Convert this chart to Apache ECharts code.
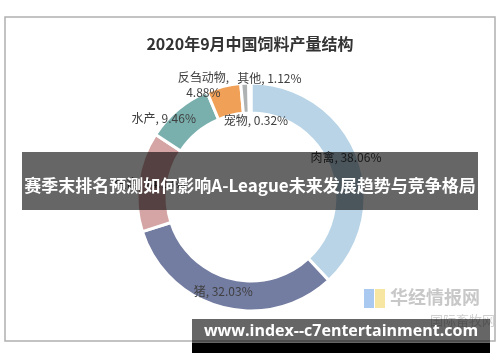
<!DOCTYPE html>
<html>
<head>
<meta charset="utf-8">
<script src="https://cdn.jsdelivr.net/npm/echarts@6/dist/echarts.min.js"></script>
<style>html,body{margin:0;padding:0;background:#fff;}#c{width:500px;height:362px;}</style>
</head>
<body>
<div id="c"></div>
<script>
var titleText = '2020年9月中国饲料产量结构';
var categories = ['肉禽', '猪', '蛋禽', '水产', '反刍动物', '其他', '宠物'];
var values = [38.06, 32.03, 14.13, 9.46, 4.88, 1.12, 0.32];
var bannerText = '赛季末排名预测如何影响A-League未来发展趋势与竞争格局';
var watermarkText = 'www.index--c7entertainment.com';
var logoText = '华经情报网';
var logoSub = '国际畜牧网';

var colors = ['#b8d4e6', '#737ca1', '#d5a4a4', '#79b0ae', '#f0a157', '#aeb2b3', '#cfdde6'];
var labelShift = [[0, -2], [-2, -4], [0, 0], [-22, 0], [-23, -13], [24, -17], [6, 25]];

var chart = echarts.init(document.getElementById('c'), null, {renderer: 'canvas'});
var data = categories.map(function (n, i) {
  return {
    name: n, value: values[i],
    itemStyle: {color: colors[i]},
    label: {formatter: n === '反刍动物' ? '{b},\n{c}%' : '{b}, {c}%'}
  };
});
chart.setOption({
  animation: false,
  title: {
    text: titleText, left: 'center', top: 31,
    textStyle: {fontFamily: 'Noto Sans CJK SC', fontSize: 16, fontWeight: 'bold', color: '#333'}
  },
  series: [{
    type: 'pie',
    center: [251, 197],
    radius: [84, 114],
    startAngle: 90,
    clockwise: true,
    avoidLabelOverlap: false,
    itemStyle: {borderColor: '#fff', borderWidth: 3},
    label: {
      show: true, position: 'inside', color: '#404040', fontSize: 12,
      fontFamily: 'Noto Sans CJK SC', textBorderWidth: 0, lineHeight: 15
    },
    labelLine: {show: false},
    labelLayout: function (p) {
      var s = labelShift[p.dataIndex];
      return {dx: s[0], dy: s[1]};
    },
    data: data
  }],
  graphic: [
    {type: 'rect', z: 0, shape: {x: 5, y: 17, width: 490, height: 324},
      style: {fill: 'none', stroke: '#b0b0b0', lineWidth: 1.5}},
    {type: 'rect', z: 1, shape: {x: 364, y: 289, width: 10, height: 19}, style: {fill: '#a9c9f0'}},
    {type: 'rect', z: 1, shape: {x: 375, y: 289, width: 10, height: 19}, style: {fill: '#f7e6a2'}},
    {type: 'text', z: 1, style: {text: logoText, x: 390, y: 297, verticalAlign: 'middle',
      font: 'bold 18px "Noto Sans CJK SC"', fill: '#c8c8c8'}},
    {type: 'text', z: 1, style: {text: logoSub, x: 430, y: 320, verticalAlign: 'middle',
      font: '13px "Noto Sans CJK SC"', fill: '#d0d0d0'}},
    {type: 'rect', z: 100, shape: {x: 22, y: 152, width: 456, height: 58}, style: {fill: 'rgba(0,0,0,0.6)'}},
    {type: 'text', z: 101, style: {text: bannerText, x: 250, y: 186, align: 'center', verticalAlign: 'middle',
      font: 'bold 17px "Noto Sans CJK SC"', fill: '#fff'}},
    {type: 'rect', z: 100, shape: {x: 192, y: 319, width: 298, height: 24}, style: {fill: 'rgba(0,0,0,0.6)'}},
    {type: 'rect', z: 100, shape: {x: 192, y: 343, width: 298, height: 10}, style: {fill: '#000'}},
    {type: 'text', z: 101, style: {text: watermarkText, x: 341, y: 331, align: 'center', verticalAlign: 'middle',
      font: 'bold 16px "Open Sans"', fill: '#fff'}}
  ]
});
</script>
</body>
</html>
